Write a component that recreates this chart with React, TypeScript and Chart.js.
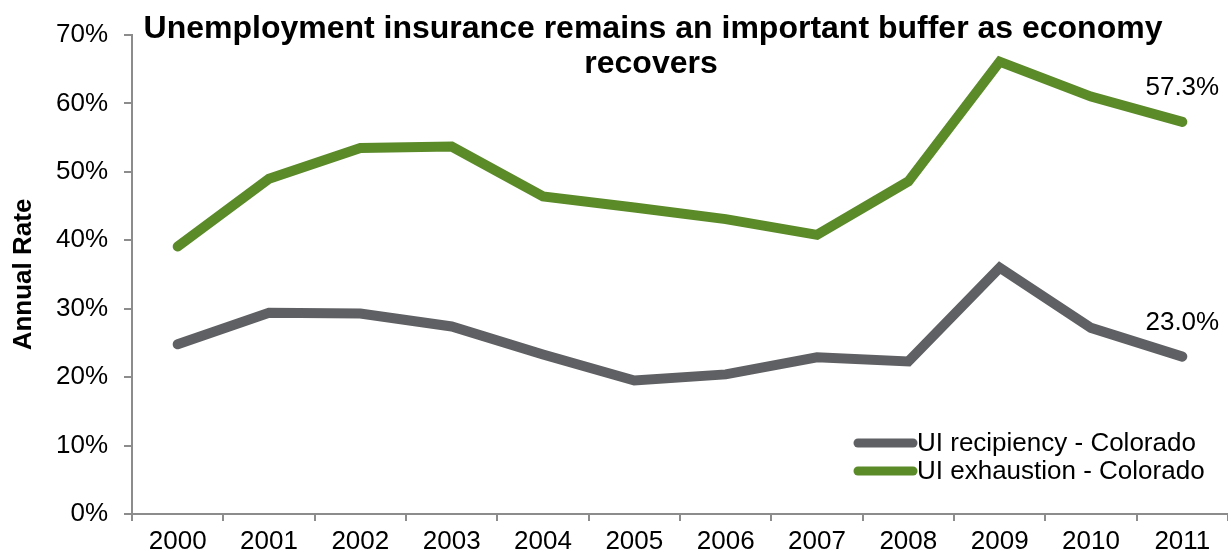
import React, { useEffect, useRef } from "react";
import { Chart, registerables } from "chart.js";

Chart.register(...registerables);

const years = ["2000", "2001", "2002", "2003", "2004", "2005", "2006", "2007", "2008", "2009", "2010", "2011"];
const recipiency = [24.8, 29.4, 29.3, 27.4, 23.3, 19.5, 20.4, 22.9, 22.3, 36.0, 27.2, 23.0];
const exhaustion = [39.1, 49.0, 53.5, 53.7, 46.4, 44.8, 43.1, 40.8, 48.6, 66.1, 61.0, 57.3];
const yTicks = [0, 10, 20, 30, 40, 50, 60, 70];
const seriesNames = ["UI recipiency - Colorado", "UI exhaustion - Colorado"];
const titleLines = ["Unemployment insurance remains an important buffer as economy", "recovers"];
const yTitle = "Annual Rate";

const GRAY = "#5f6063";
const GREEN = "#5b8a29";
const AXIS = "#8c8c8c";
const FONT = "'Liberation Sans', Arial, sans-serif";

const overlayPlugin = {
  id: "overlay",
  afterDraw(chart: any) {
    const ctx = chart.ctx;
    ctx.save();
    // title
    ctx.fillStyle = "#000";
    ctx.font = `bold 32px ${FONT}`;
    ctx.textAlign = "center";
    ctx.textBaseline = "middle";
    ctx.fillText(titleLines[0], 653, 29);
    ctx.fillText(titleLines[1], 651, 64);

    // end labels
    ctx.font = `26px ${FONT}`;
    chart.data.datasets.forEach((ds: any, i: number) => {
      const meta = chart.getDatasetMeta(i);
      const last = meta.data[meta.data.length - 1];
      const v = ds.data[ds.data.length - 1];
      ctx.fillStyle = "#000";
      ctx.fillText(v.toFixed(1) + "%", last.x, last.y - 34);
    });

    // legend
    const colors = [GRAY, GREEN];
    const ys = [443, 471];
    ctx.textAlign = "left";
    ctx.font = `26px ${FONT}`;
    for (let i = 0; i < 2; i++) {
      ctx.strokeStyle = colors[i];
      ctx.lineWidth = 9;
      ctx.lineCap = "round";
      ctx.beginPath();
      ctx.moveTo(858, ys[i]);
      ctx.lineTo(913, ys[i]);
      ctx.stroke();
      ctx.fillStyle = "#000";
      ctx.fillText(seriesNames[i], 917, ys[i] + 1);
    }
    ctx.restore();
  },
};

export default function App() {
  const ref = useRef<HTMLCanvasElement>(null);
  useEffect(() => {
    document.body.style.margin = "0";
    const chart = new Chart(ref.current!, {
      type: "line",
      data: {
        labels: years,
        datasets: [
          {
            label: seriesNames[0],
            data: recipiency,
            borderColor: GRAY,
            backgroundColor: GRAY,
            borderWidth: 10,
            pointRadius: 0,
            borderCapStyle: "round",
            borderJoinStyle: "miter",
            tension: 0,
          },
          {
            label: seriesNames[1],
            data: exhaustion,
            borderColor: GREEN,
            backgroundColor: GREEN,
            borderWidth: 10,
            pointRadius: 0,
            borderCapStyle: "round",
            borderJoinStyle: "miter",
            tension: 0,
          },
        ],
      },
      options: {
        responsive: false,
        animation: false,
        layout: { padding: { top: 35, right: 0, left: 0, bottom: 0 } },
        plugins: {
          legend: { display: false },
          title: { display: false },
          tooltip: { enabled: false },
        },
        scales: {
          x: {
            offset: true,
            grid: {
              offset: true,
              drawOnChartArea: false,
              drawTicks: true,
              tickLength: 7,
              color: AXIS,
              lineWidth: 2,
            },
            border: { color: AXIS, width: 2 },
            ticks: {
              color: "#000",
              font: { family: FONT, size: 26 },
              padding: 5,
              maxRotation: 0,
              autoSkip: false,
            },
            afterFit(scale: any) {
              scale.height = 42;
            },
          },
          y: {
            min: 0,
            max: 70,
            afterBuildTicks(scale: any) {
              scale.ticks = yTicks.map((v) => ({ value: v }));
            },
            grid: {
              drawOnChartArea: false,
              drawTicks: true,
              tickLength: 8,
              color: AXIS,
              lineWidth: 2,
            },
            border: { color: AXIS, width: 2 },
            ticks: {
              color: "#000",
              font: { family: FONT, size: 26 },
              padding: 16,
              callback: (v: any) => v + "%",
            },
            title: {
              display: true,
              text: yTitle,
              color: "#000",
              font: { family: FONT, size: 26, weight: "bold" },
              padding: { top: 8, bottom: 0 },
            },
            afterFit(scale: any) {
              scale.width = 132;
            },
          },
        },
      },
      plugins: [overlayPlugin],
    });
    return () => chart.destroy();
  }, []);
  return (
    <div style={{ width: 1228, height: 556 }}>
      <canvas ref={ref} width={1228} height={556} style={{ display: "block" }} />
    </div>
  );
}
